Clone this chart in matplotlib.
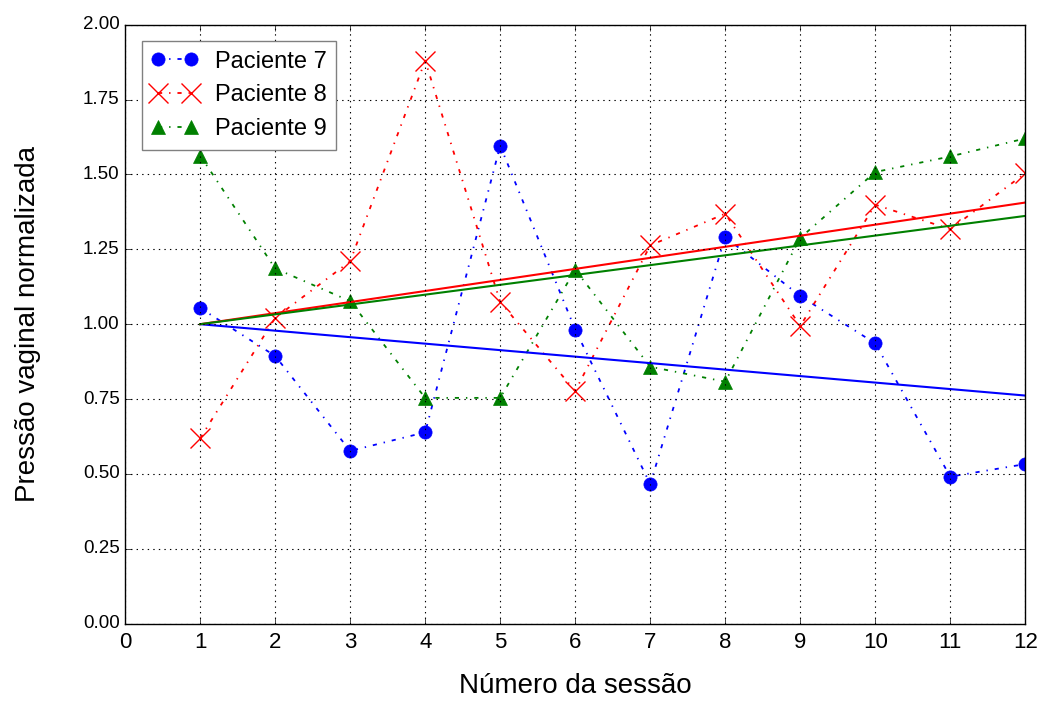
import matplotlib.pyplot as plt
import numpy as np

# Sessões e pressão vaginal normalizada por paciente
sessoes = np.arange(1, 13)
paciente_7 = [1.054, 0.894, 0.577, 0.639, 1.596, 0.982, 0.466, 1.291, 1.094, 0.936, 0.491, 0.533]
paciente_8 = [0.619, 1.021, 1.210, 1.880, 1.074, 0.777, 1.263, 1.369, 0.994, 1.399, 1.317, 1.504]
paciente_9 = [1.563, 1.186, 1.077, 0.754, 0.754, 1.182, 0.858, 0.808, 1.288, 1.508, 1.560, 1.620]

plt.style.use('classic')
plt.rcParams['font.family'] = ['Liberation Sans', 'DejaVu Sans']


def tendencia(x, y):
    # reta de minimos quadrados forcada a passar por (1, 1)
    dx = np.asarray(x) - 1.0
    dy = np.asarray(y) - 1.0
    m = np.sum(dx * dy) / np.sum(dx * dx)
    return 1.0 + m * dx


fig = plt.figure(figsize=(10.43, 7.04), dpi=100, facecolor='white')
ax = fig.add_axes([0.12, 0.114, 0.863, 0.851])

ax.plot(sessoes, paciente_7, 'b-.', marker='o', markersize=9.5, markeredgecolor='b',
        lw=1.3, label='Paciente 7')
ax.plot(sessoes, paciente_8, 'r-.', marker='x', markersize=15, markeredgewidth=1.0,
        lw=1.3, label='Paciente 8')
ax.plot(sessoes, paciente_9, 'g-.', marker='^', markersize=9.5, markeredgecolor='g',
        lw=1.3, label='Paciente 9')

ax.plot(sessoes, tendencia(sessoes, paciente_7), 'b-', lw=1.5)
ax.plot(sessoes, tendencia(sessoes, paciente_8), 'r-', lw=1.5)
ax.plot(sessoes, tendencia(sessoes, paciente_9), 'g-', lw=1.5)

ax.set_xlim(0, 12)
ax.set_ylim(0, 2)
ax.set_xticks(range(0, 13))
ax.set_yticks(np.arange(0, 2.01, 0.25))
ax.set_yticklabels(['%.2f' % v for v in np.arange(0, 2.01, 0.25)], fontsize=13.5)
ax.set_xticklabels([str(v) for v in range(0, 13)], fontsize=16)
ax.tick_params(axis='x', pad=6)
ax.grid(True, linestyle=':', color='k', lw=0.8)

ax.set_xlabel('Número da sessão', fontsize=20, labelpad=14)
ax.set_ylabel('Pressão vaginal normalizada', fontsize=20, labelpad=30)

leg = ax.legend(loc='upper left', numpoints=2, fontsize=17, handlelength=2.0,
                handletextpad=0.7, borderaxespad=0.7, labelspacing=0.5)
leg.get_frame().set_edgecolor('0.5')

fig.savefig('out.png', dpi=100, facecolor='white')
